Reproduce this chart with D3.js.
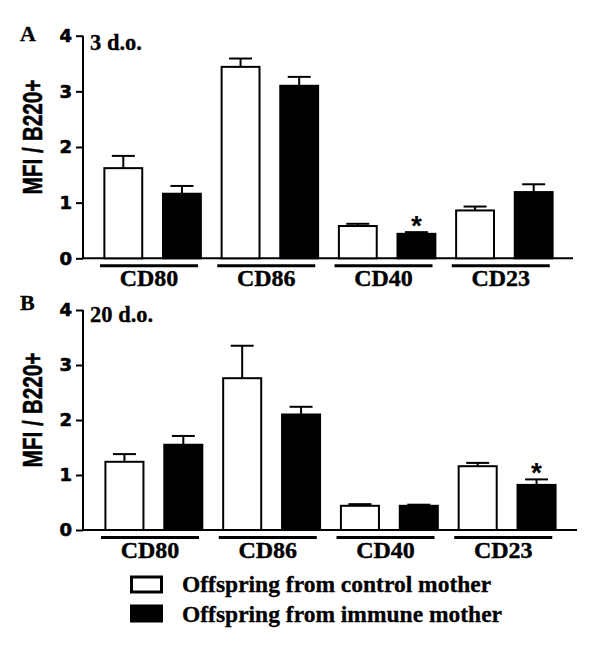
<!DOCTYPE html>
<html>
<head>
<meta charset="utf-8">
<script src="https://cdn.jsdelivr.net/npm/d3@7"></script>
<style>
  html, body { margin: 0; padding: 0; background: #fff; }
  svg { display: block; }
</style>
</head>
<body>
<script>
// ---- data ----
const categories = ["CD80", "CD86", "CD40", "CD23"];
const seriesNames = ["Offspring from control mother", "Offspring from immune mother"];
const yTicks = [0, 1, 2, 3, 4];

const panelLabels = ["A", "B"];
const panelTitles = ["3 d.o.", "20 d.o."];

const a3Control = [1.62, 3.44, 0.58, 0.86];
const a3ControlErr = [0.22, 0.15, 0.04, 0.07];
const a3Immune = [1.16, 3.10, 0.44, 1.19];
const a3ImmuneErr = [0.14, 0.16, 0.03, 0.14];
const a3Signif = [null, null, "*", null];   // marks above immune bars

const b20Control = [1.24, 2.76, 0.44, 1.16];
const b20ControlErr = [0.14, 0.59, 0.03, 0.06];
const b20Immune = [1.55, 2.10, 0.44, 0.82];
const b20ImmuneErr = [0.16, 0.14, 0.02, 0.10];
const b20Signif = [null, null, null, "*"];

const yLabel = "MFI / B220+";

// ---- drawing ----
const W = 600, H = 657;
const svg = d3.select("body").append("svg").attr("width", W).attr("height", H);

const serif = "'Liberation Serif', 'Times New Roman', serif";
const sans = "'Liberation Sans', Arial, sans-serif";

function drawPanel(cfg) {
  const g = svg.append("g");
  const y = d3.scaleLinear().domain([0, 4]).range([cfg.y0, cfg.y4]);
  const x0 = d3.scaleBand().domain(categories).range(cfg.xRange).paddingInner(0).paddingOuter(0);
  const x1 = d3.scaleBand().domain([0, 1]).range([0, x0.bandwidth()]).paddingInner(0.32).paddingOuter(0.16);
  const axisX = cfg.axisX;

  // y axis
  const yAxis = d3.axisLeft(y).tickValues(yTicks).tickFormat(d3.format("d")).tickSize(7).tickPadding(4);
  const ya = g.append("g").attr("transform", `translate(${axisX},0)`).call(yAxis);
  ya.select(".domain").attr("d", `M0,${cfg.y4}V${cfg.y0}`).attr("stroke", "#000").attr("stroke-width", 2);
  ya.selectAll(".tick line").attr("stroke", "#000").attr("stroke-width", 2);
  ya.selectAll(".tick text").attr("font-family", "'DejaVu Sans', Arial, sans-serif")
    .attr("font-weight", "bold").attr("font-size", 18).attr("fill", "#000")
    .attr("stroke", "#000").attr("stroke-width", 0.6);

  // x axis baseline
  g.append("line").attr("x1", axisX).attr("x2", cfg.xEnd)
    .attr("y1", y(0)).attr("y2", y(0)).attr("stroke", "#000").attr("stroke-width", 2);

  const series = [
    { vals: cfg.control, errs: cfg.controlErr, fill: "#fff" },
    { vals: cfg.immune, errs: cfg.immuneErr, fill: "#000" }
  ];
  const barW = x1.bandwidth();

  series.forEach((s, si) => {
    const cx = (i) => x0(categories[i]) + x1(si) + barW / 2;
    // error bars (upper only)
    g.selectAll(null).data(s.vals).enter().append("line")
      .attr("x1", (d, i) => cx(i)).attr("x2", (d, i) => cx(i))
      .attr("y1", (d) => y(d)).attr("y2", (d, i) => y(d + s.errs[i]))
      .attr("stroke", "#000").attr("stroke-width", 2);
    g.selectAll(null).data(s.vals).enter().append("line")
      .attr("x1", (d, i) => cx(i) - 11.5).attr("x2", (d, i) => cx(i) + 11.5)
      .attr("y1", (d, i) => y(d + s.errs[i])).attr("y2", (d, i) => y(d + s.errs[i]))
      .attr("stroke", "#000").attr("stroke-width", 2);
    // bars
    g.selectAll(null).data(s.vals).enter().append("rect")
      .attr("x", (d, i) => x0(categories[i]) + x1(si) + 1)
      .attr("y", (d) => y(d))
      .attr("width", barW - 2)
      .attr("height", (d) => y(0) - y(d))
      .attr("fill", s.fill).attr("stroke", "#000").attr("stroke-width", 2);
  });

  // significance marks (above immune bars)
  const marks = cfg.signif.map((m, i) => ({ m, i })).filter(o => o.m);
  g.selectAll(null).data(marks).enter().append("text")
    .attr("x", (o) => x0(categories[o.i]) + x1(1) + barW / 2)
    .attr("y", (o) => y(cfg.immune[o.i] + cfg.immuneErr[o.i]) + 3)
    .attr("text-anchor", "middle")
    .attr("font-family", sans).attr("font-weight", "bold").attr("font-size", 28)
    .text(o => o.m);

  // category underlines and labels
  categories.forEach((c) => {
    const xs = x0(c) + 6, xe = x0(c) + 104;
    g.append("line").attr("x1", xs).attr("x2", xe)
      .attr("y1", y(0) + 7.5).attr("y2", y(0) + 7.5)
      .attr("stroke", "#000").attr("stroke-width", 3);
    g.append("text").attr("x", (xs + xe) / 2).attr("y", y(0) + 28)
      .attr("text-anchor", "middle").attr("font-family", serif)
      .attr("font-weight", "bold").attr("font-size", 24)
      .attr("stroke", "#000").attr("stroke-width", 0.4).text(c);
  });

  // panel letter and title
  g.append("text").attr("x", 20).attr("y", cfg.letterY)
    .attr("font-family", serif).attr("font-weight", "bold").attr("font-size", 22)
    .attr("stroke", "#000").attr("stroke-width", 0.3).text(cfg.letter);
  g.append("text").attr("x", 90).attr("y", cfg.titleY)
    .attr("font-family", serif).attr("font-weight", "bold").attr("font-size", 22.5)
    .attr("stroke", "#000").attr("stroke-width", 0.3).text(cfg.title);

  // y label
  g.append("text")
    .attr("transform", `translate(42,${(cfg.y0 + cfg.y4) / 2 - 10}) rotate(-90)`)
    .attr("text-anchor", "middle")
    .attr("font-family", "'Liberation Sans Narrow', 'Liberation Sans', Arial, sans-serif")
    .attr("font-weight", "bold").attr("font-size", 28)
    .attr("stroke", "#000").attr("stroke-width", 0.5)
    .attr("textLength", 115).attr("lengthAdjust", "spacingAndGlyphs")
    .text(yLabel);
}

drawPanel({
  y0: 258.3, y4: 35.7, axisX: 83, xRange: [94, 563], xEnd: 573,
  control: a3Control, controlErr: a3ControlErr, immune: a3Immune, immuneErr: a3ImmuneErr,
  signif: a3Signif, letter: panelLabels[0], title: panelTitles[0], letterY: 40.5, titleY: 50
});
drawPanel({
  y0: 530, y4: 310, axisX: 83, xRange: [95, 566], xEnd: 577,
  control: b20Control, controlErr: b20ControlErr, immune: b20Immune, immuneErr: b20ImmuneErr,
  signif: b20Signif, letter: panelLabels[1], title: panelTitles[1], letterY: 310, titleY: 321.5
});

// legend
const legend = svg.append("g");
const legendFills = ["#fff", "#000"];
seriesNames.forEach((name, i) => {
  const top = 577 + i * 29;
  legend.append("rect").attr("x", 131.5).attr("y", top).attr("width", 30).attr("height", 15)
    .attr("fill", legendFills[i]).attr("stroke", "#000").attr("stroke-width", 3);
  legend.append("text").attr("x", 182).attr("y", 592 + i * 30)
    .attr("font-family", serif).attr("font-weight", "bold").attr("font-size", 23.5)
    .attr("stroke", "#000").attr("stroke-width", 0.3).text(name);
});
</script>
</body>
</html>
